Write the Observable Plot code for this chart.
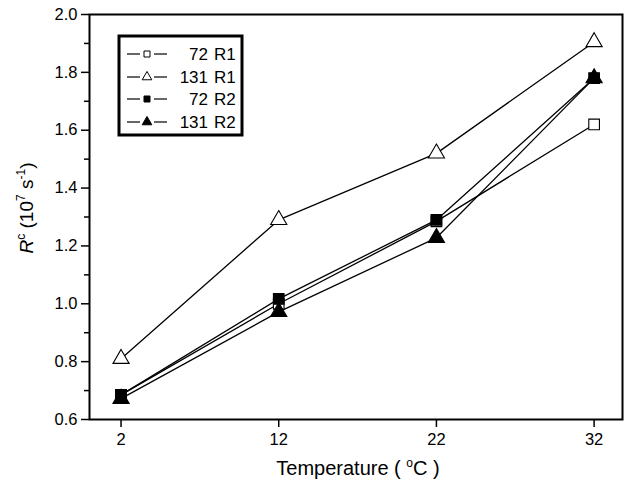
<!DOCTYPE html>
<html><head><meta charset="utf-8">
<script src="https://cdn.jsdelivr.net/npm/d3@7"></script>
<script src="https://cdn.jsdelivr.net/npm/@observablehq/plot@0.6"></script>
<style>body{margin:0;background:#fff}</style>
</head><body><div id="chart"></div>
<script>
const temps = [2, 12, 22, 32];
const seriesNames = ["72 R1", "131 R1", "72 R2", "131 R2"];
const seriesNum = ["72", "131", "72", "131"];
const seriesRun = ["R1", "R1", "R2", "R2"];
const v72R1 = [0.685, 1.00, 1.285, 1.62];
const v131R1 = [0.81, 1.29, 1.52, 1.905];
const v72R2 = [0.685, 1.017, 1.29, 1.78];
const v131R2 = [0.672, 0.972, 1.228, 1.78];
const yTicks = [0.6, 0.8, 1.0, 1.2, 1.4, 1.6, 1.8, 2.0];
const yMinor = [0.7, 0.9, 1.1, 1.3, 1.5, 1.7, 1.9];
const xTicks = [2, 12, 22, 32];
const symbols = ["square", "triangle", "square", "triangle"];
const fills = ["white", "white", "black", "black"];

const allVals = [v72R1, v131R1, v72R2, v131R2];
const data = [];
allVals.forEach((vals, si) => vals.forEach((v, i) => data.push({
  s: seriesNames[si], si, t: temps[i], v, sym: symbols[si], fill: fills[si]
})));

const font = "'Liberation Sans', Arial, sans-serif";
const plot = Plot.plot({
  width: 629, height: 488,
  marginLeft: 89, marginRight: 7, marginTop: 14, marginBottom: 69,
  style: {fontFamily: font, fontSize: "16.5px", color: "black", background: "white"},
  x: {domain: [0, 33.8], label: null},
  y: {domain: [0.6, 2.0], label: null},
  symbol: {domain: ["square", "triangle"], range: ["square", "triangle"]},
  marks: [
    Plot.axisY({ticks: yMinor, tickSize: 5, text: null, strokeWidth: 1.5}),
    Plot.axisY({ticks: yTicks, tickSize: 8, tickPadding: 4, tickFormat: d3.format(".1f"), strokeWidth: 1.5, fontSize: 16.5}),
    Plot.axisX({ticks: xTicks, tickSize: 8, tickPadding: 6, strokeWidth: 1.5, fontSize: 16.5}),
    Plot.line(data, {x: "t", y: "v", z: "s", stroke: "black", strokeWidth: 1.3}),
    Plot.dot(data, {x: "t", y: "v", symbol: "sym", fill: "fill", stroke: "black", strokeWidth: 1.1, r: 6}),
    Plot.frame({stroke: "black", strokeWidth: 2})
  ]
});
document.getElementById("chart").appendChild(plot);

const svg = d3.select(plot);
// x-axis title
const xt = svg.append("text").attr("x", 358).attr("y", 475).attr("text-anchor", "middle")
  .attr("font-family", font).attr("font-size", 20).attr("fill", "black");
xt.append("tspan").text("Temperature ( ");
xt.append("tspan").attr("dy", -8).attr("font-size", 12).text("o");
xt.append("tspan").attr("dy", 8).text("C )");
// y-axis title
const yt = svg.append("text").attr("transform", "translate(33,208) rotate(-90)").attr("text-anchor", "middle")
  .attr("font-family", font).attr("font-size", 19).attr("fill", "black");
yt.append("tspan").attr("font-style", "italic").text("R");
yt.append("tspan").attr("dy", -8).attr("font-size", 12).text("c");
yt.append("tspan").attr("dy", 8).text(" (10");
yt.append("tspan").attr("dy", -8).attr("font-size", 12).text("7");
yt.append("tspan").attr("dy", 8).text(" s");
yt.append("tspan").attr("dy", -8).attr("font-size", 12).text("-1");
yt.append("tspan").attr("dy", 8).text(")");

// legend
const lg = svg.append("g");
lg.append("rect").attr("x", 119).attr("y", 36).attr("width", 123).attr("height", 99)
  .attr("fill", "white").attr("stroke", "black").attr("stroke-width", 3);
const rowY = [54, 77, 99, 122];
seriesNames.forEach((s, i) => {
  const y = rowY[i];
  lg.append("line").attr("x1", 127).attr("x2", 140).attr("y1", y).attr("y2", y).attr("stroke", "black").attr("stroke-width", 1.2);
  lg.append("line").attr("x1", 154).attr("x2", 167).attr("y1", y).attr("y2", y).attr("stroke", "black").attr("stroke-width", 1.2);
  const sym = symbols[i] === "square" ? d3.symbolSquare : d3.symbolTriangle;
  lg.append("path").attr("d", d3.symbol(sym, symbols[i] === "square" ? 36 : 40)())
    .attr("transform", `translate(147,${y})`).attr("fill", fills[i]).attr("stroke", "black").attr("stroke-width", 1);
  lg.append("text").attr("x", 208).attr("y", y + 6).attr("text-anchor", "end")
    .attr("font-family", font).attr("font-size", 17).attr("fill", "black").text(seriesNum[i]);
  lg.append("text").attr("x", 214).attr("y", y + 6).attr("text-anchor", "start")
    .attr("font-family", font).attr("font-size", 17).attr("fill", "black").text(seriesRun[i]);
});
</script></body></html>
